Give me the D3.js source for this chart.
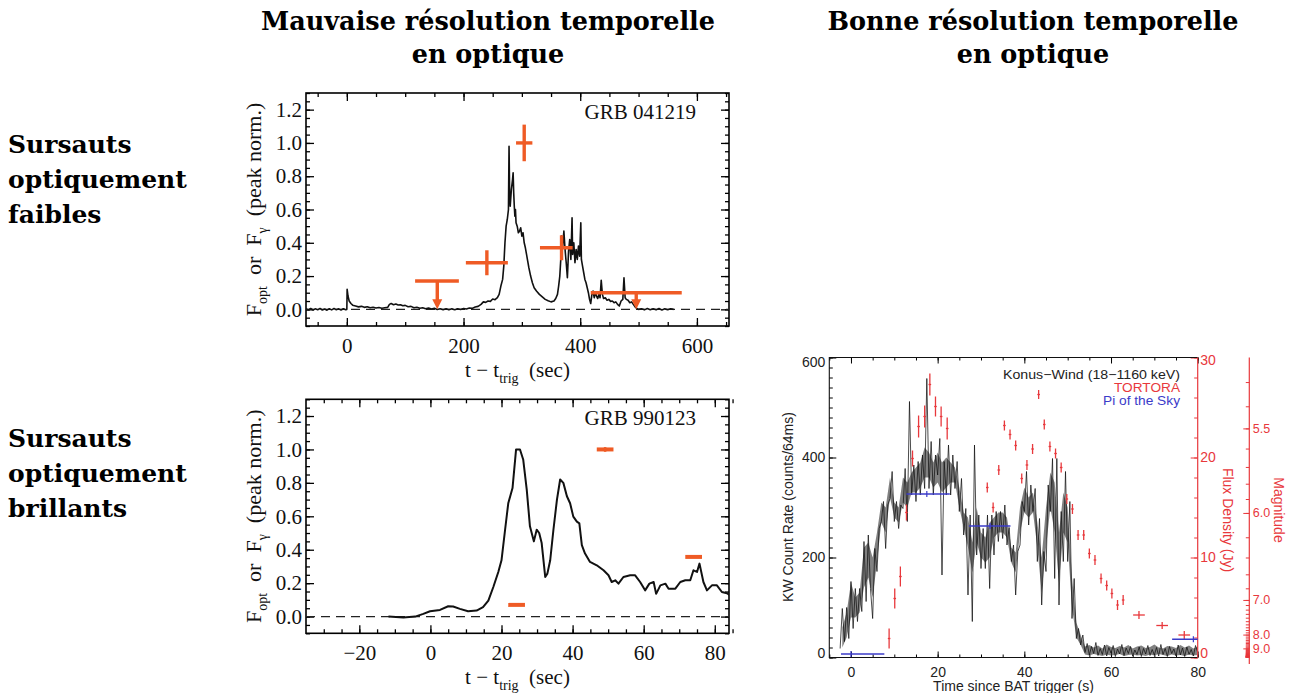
<!DOCTYPE html>
<html>
<head>
<meta charset="utf-8">
<script src="https://cdn.jsdelivr.net/npm/d3@7"></script>
<style>
  body { margin: 0; background: #fff; }
  svg text { white-space: pre; }
</style>
</head>
<body>
<svg id="fig" width="1296" height="693"></svg>
<script>
// ---- text ----
const columnTitles = [["Mauvaise résolution temporelle", "en optique"], ["Bonne résolution temporelle", "en optique"]];
const rowLabels = [["Sursauts", "optiquement", "faibles"], ["Sursauts", "optiquement", "brillants"]];

// ---- GRB 041219 (gamma light curve, peak normalised) ----
const faintTime = [
  -70,-66,-62,-58,-54,-50,-46,-42,-38,-34,-30,-26,-22,-18,-14,-10,-6,-2,
  0,0.5,2,4,7,10,15,20,25,30,35,40,45,50,55,60,
  65,70,73,76,80,84,88,92,96,100,105,110,115,120,125,130,
  135,140,145,150,155,160,165,170,175,180,185,190,195,200,205,210,
  215,220,225,230,234,238,242,246,250,254,258,261,264,267,269,271,
  273,275,277,278,279,280,282,284,285,286,287,288,289,290,292,294,
  296,298,300,302,304,306,308,310,312,315,318,321,325,330,335,340,
  345,350,355,358,361,363,365,367,368,370,372,374,376,378,380,382,
  384,386,387,389,391,393,395,397,399,401,402,404,406,408,410,412,
  414,416,418,420,422,424,426,428,430,432,434,436,438,440,443,446,
  449,452,455,458,461,464,467,470,473,475,477,479,482,485,488,491,
  494,497,500,505,510,515,520,525,530,535,540,545,550,555,560];
const faintFlux = [
  0.004,-0.003,0.005,-0.004,0.003,-0.002,0.005,-0.004,0.002,-0.005,0.004,-0.003,0.005,-0.002,0.003,-0.004,0.004,-0.002,
  0.0,0.12,0.08,0.05,0.035,0.025,0.02,0.015,0.018,0.012,0.016,0.010,0.013,0.008,0.011,0.007,
  0.010,0.012,0.030,0.035,0.028,0.032,0.026,0.028,0.022,0.024,0.016,0.018,0.010,0.013,0.007,0.010,
  0.004,0.008,0.002,0.006,-0.001,0.004,-0.002,0.004,-0.003,0.003,-0.002,0.004,-0.001,0.005,0.002,0.008,
  0.006,0.014,0.018,0.030,0.045,0.042,0.050,0.048,0.062,0.058,0.070,0.090,0.140,0.180,0.260,0.400,
  0.50,0.54,0.60,0.98,0.70,0.62,0.72,0.78,0.82,0.70,0.62,0.56,0.60,0.52,0.50,0.46,
  0.47,0.49,0.44,0.46,0.40,0.37,0.33,0.29,0.25,0.20,0.16,0.13,0.11,0.09,0.075,0.06,
  0.052,0.045,0.050,0.065,0.09,0.14,0.20,0.32,0.44,0.38,0.47,0.36,0.28,0.19,0.35,0.42,
  0.30,0.55,0.33,0.40,0.28,0.36,0.30,0.38,0.32,0.52,0.30,0.26,0.22,0.18,0.16,0.13,
  0.10,0.06,0.035,0.09,0.11,0.07,0.10,0.08,0.065,0.09,0.07,0.175,0.09,0.065,0.07,0.055,
  0.06,0.048,0.05,0.04,0.045,0.03,0.02,0.05,0.06,0.19,0.07,0.06,0.055,0.04,0.045,0.03,
  0.015,0.005,0.0,0.004,-0.003,0.005,-0.002,0.004,-0.003,0.005,-0.004,0.003,-0.002,0.004,0.0];
// optical detections (orange crosses)
const faintOptT = [240, 304, 368];
const faintOptTLo = [204, 290, 331];
const faintOptTHi = [276, 318, 387];
const faintOptFlux = [0.28, 1.0, 0.37];
const faintOptErr = [0.075, 0.11, 0.075];
// optical upper limits
const faintLimTLo = [117, 418];
const faintLimTHi = [192, 574];
const faintLimFlux = [0.17, 0.10];
const faintLimArrowT = [155, 496];

// ---- GRB 990123 ----
const brightTime = [-11.8,-7.6,-4.3,-2.0,-0.1,2.7,5.0,6.4,8.3,10.6,13.0,14.8,16.3,17.7,19.1,20.0,21.0,21.9,23.1,24.1,
  25.2,26.1,27.1,28.0,29.1,29.9,30.6,31.3,32.3,32.9,33.7,34.6,35.6,36.5,37.4,38.4,39.3,40.2,41.2,41.9,
  42.6,43.5,44.9,46.8,48.7,50.1,51.0,52.0,52.9,54.3,56.2,57.6,59.0,60.4,61.6,62.8,63.5,64.7,66.1,67.0,
  68.9,70.3,71.7,73.1,74.0,75.0,75.7,76.8,77.8,79.2,80.6,82.0,83.4,84.3];
const brightFlux = [0.0,-0.005,0.0,0.016,0.032,0.04,0.062,0.06,0.046,0.032,0.036,0.056,0.096,0.177,0.267,0.337,0.518,0.678,0.769,1.0,
  1.0,0.94,0.76,0.54,0.45,0.52,0.50,0.44,0.237,0.257,0.337,0.518,0.70,0.82,0.80,0.72,0.678,0.598,0.568,0.558,
  0.427,0.377,0.327,0.307,0.277,0.247,0.207,0.217,0.197,0.237,0.247,0.247,0.207,0.157,0.197,0.207,0.136,0.187,0.197,0.167,
  0.167,0.207,0.217,0.217,0.277,0.267,0.317,0.207,0.157,0.187,0.187,0.147,0.14,0.127];
const brightOptTLo = [21.9, 46.8, 71.7];
const brightOptTHi = [26.6, 51.5, 76.4];
const brightOptFlux = [0.07, 1.0, 0.357];
const brightOptErr = [0, 0.014, 0];

// ---- GRB 080319B : Konus-Wind counts / 64 ms ----
// spiky trace read every 0.5 s from -2.5 s
const kwStart = -2.5, kwStep = 0.5;
const kwRate = [
  18,98,32,100,38,152,58,138,72,138,92,232,112,245,138,78,218,172,258,272,
  312,218,305,318,372,272,312,258,305,298,378,272,512,325,385,312,392,325,405,338,
  558,338,432,325,405,365,438,165,392,325,425,325,405,338,392,292,358,245,298,125,
  285,72,425,205,285,178,258,178,285,138,285,205,292,232,292,238,305,225,260,192,
  225,125,212,225,312,292,372,265,345,292,338,192,278,105,212,172,345,292,398,158,
  398,105,292,192,372,192,312,78,158,38,58,25,45,
  10,28,5,22,8,30,4,18,6,25,3,20,9,24,2,17,7,26,4,19,8,22,3,15,6,21,2,18,7,24,
  4,16,5,20,3,26,6,18,2,22,8,17,3,25,5,19,2,21,6,16,3,24,10];
// dense core of the trace, read every 1 s from -2 s
const kwCoreStart = -2;
const kwCoreLo = [20,40,80,80,90,140,160,120,190,270,250,320,280,270,310,300,330,330,340,360,
  360,340,350,330,340,350,350,300,260,220,170,230,200,190,200,240,250,250,240,190,
  170,250,290,280,290,220,130,220,300,250,150,250,230,100,40,25,
  6,4,7,5,3,6,4,5,7,3,5,6,4,5,3,6,4,7,5,3,6,4,5,3,6,4,5];
const kwCoreHi = [60,90,150,120,130,220,230,200,250,310,300,360,310,300,360,350,370,380,390,420,
  410,390,410,390,400,390,380,340,290,280,230,300,250,240,270,280,290,290,280,220,
  210,300,340,320,330,270,200,300,370,350,250,330,300,160,70,45,
  22,25,20,24,18,26,21,19,23,20,25,18,22,24,19,21,26,20,18,23,22,19,25,20,24,18,22];
// TORTORA optical flux density (Jy)
const tortoraTime = [8.8,10.1,11.4,12.8,14.2,15.6,17.0,18.2,19.5,20.8,22.2,
  31.45,32.8,34.1,35.4,36.7,38.0,39.4,40.6,41.9,43.3,44.6,45.9,47.2,48.5,49.8,51.1,52.4,53.7,55.0,
  56.3,57.7,59.0,60.2,61.5,62.8,66.45,71.8,76.9];
const tortoraFlux = [1.9,5.9,8.1,14.5,19.9,23.1,24.1,27.3,25.1,24.1,22.9,
  17.0,15.0,18.75,23.2,22.3,21.2,17.9,19.25,20.85,26.3,23.3,21.1,20.4,19.0,15.85,14.85,12.25,12.25,10.4,
  9.75,7.9,7.2,6.4,5.25,5.75,4.25,3.2,2.25];
const tortoraErr = [1.0,1.0,1.0,0.8,0.8,1.1,1.1,1.1,1.0,1.0,1.1,
  0.5,0.5,0.5,0.5,0.5,0.5,0.5,0.5,0.5,0.45,0.5,0.5,0.5,0.5,0.5,0.5,0.5,0.5,0.5,
  0.5,0.5,0.5,0.5,0.5,0.5,0.4,0.35,0.4];
const tortoraTErr = [0.3,0.3,0.3,0.3,0.3,0.3,0.3,0.3,0.3,0.3,0.3,
  0.3,0.3,0.3,0.3,0.3,0.3,0.3,0.3,0.3,0.3,0.3,0.3,0.3,0.3,0.3,0.3,0.3,0.3,0.3,
  0.3,0.3,0.3,0.3,0.3,0.3,1.35,1.35,1.35];
// Pi of the Sky exposures
const piTLo = [-2.3, 12.8, 27.2, 74.1];
const piTHi = [7.7, 22.8, 36.8, 84.1];
const piMid = [0.0, 17.5, 32.1, 79.0];
const piFlux = [0.35, 16.35, 13.15, 1.83];

const countTicks = [0, 200, 400, 600];
const fluxTicks = [0, 10, 20, 30];
const magTicks = [5.5, 6.0, 7.0, 8.0, 9.0];
const magZeroJy = 3631;
const legendLabels = ["Konus\u2212Wind (18\u22121160 keV)", "TORTORA", "Pi of the Sky"];

// ---------------------------------------------------------------
const svg = d3.select("#fig");
svg.append("rect").attr("width", 1296).attr("height", 693).attr("fill", "#fff");

const serif = "'Liberation Serif', 'Times New Roman', serif";
const sans = "'Liberation Sans', Arial, sans-serif";
const cmbx = "'DejaVu Serif', serif";
const orange = "#ef5b25";
const red = "#e8383c";
const blue = "#3b3bc9";

// titles
[488, 1033].forEach((cx, i) => {
  columnTitles[i].forEach((line, j) => {
    svg.append("text").attr("x", cx).attr("y", 30 + j * 33)
      .attr("text-anchor", "middle").attr("font-family", cmbx)
      .attr("font-weight", "bold").attr("font-size", 25.5).text(line);
  });
});
[153, 447].forEach((y0, i) => {
  rowLabels[i].forEach((line, j) => {
    svg.append("text").attr("x", 8).attr("y", y0 + j * 35)
      .attr("font-family", cmbx).attr("font-weight", "bold")
      .attr("font-size", 25).text(line);
  });
});

function range(a, b, s) { return d3.range(a, b + s / 2, s).map(v => +v.toFixed(4)); }

function tickAxis(axis, transform, values, size, fmt, pad, color) {
  axis.tickValues(values).tickSizeInner(-size).tickSizeOuter(0).tickPadding(pad || 0)
      .tickFormat(fmt || (() => ""));
  const g = svg.append("g").attr("transform", transform).call(axis);
  g.select(".domain").remove();
  g.selectAll("line").attr("stroke", color || "#000");
  g.attr("font-family", null).attr("font-size", null);
  return g;
}

// ---- IDL style panels (left column) ----
function idlPanel(x, y, xMajor, xMinor, grbName) {
  const [x0, x1] = x.range(), [yb, yt] = y.range();
  const fmtX = d3.format("d"), fmtY = d3.format(".1f");
  const yMajor = range(0, 1.2, 0.2), yMinor = range(-0.1, 1.3, 0.05);
  const lw = 1.3;

  tickAxis(d3.axisBottom(x), `translate(0,${yb})`, xMinor, 4).selectAll("line").attr("stroke-width", lw);
  tickAxis(d3.axisTop(x), `translate(0,${yt})`, xMinor, 4).selectAll("line").attr("stroke-width", lw);
  tickAxis(d3.axisLeft(y), `translate(${x0},0)`, yMinor, 4).selectAll("line").attr("stroke-width", lw);
  tickAxis(d3.axisRight(y), `translate(${x1},0)`, yMinor, 4).selectAll("line").attr("stroke-width", lw);
  tickAxis(d3.axisTop(x), `translate(0,${yt})`, xMajor, 8).selectAll("line").attr("stroke-width", lw);
  tickAxis(d3.axisRight(y), `translate(${x1},0)`, yMajor, 8).selectAll("line").attr("stroke-width", lw);

  const gx = tickAxis(d3.axisBottom(x), `translate(0,${yb})`, xMajor, 8, fmtX, 0);
  gx.selectAll("line").attr("stroke-width", lw);
  gx.selectAll("text").attr("y", 27).attr("dy", null)
    .attr("font-family", serif).attr("font-size", 21).attr("fill", "#111");
  const gy = tickAxis(d3.axisLeft(y), `translate(${x0},0)`, yMajor, 8, fmtY, 4);
  gy.selectAll("line").attr("stroke-width", lw);
  gy.selectAll("text").attr("font-family", serif).attr("font-size", 21).attr("fill", "#111");

  svg.append("rect").attr("x", x0).attr("y", yt).attr("width", x1 - x0).attr("height", yb - yt)
    .attr("fill", "none").attr("stroke", "#000").attr("stroke-width", 1.6);

  // zero line
  svg.append("line").attr("x1", x0).attr("x2", x1).attr("y1", y(0)).attr("y2", y(0))
    .attr("stroke", "#222").attr("stroke-width", 1.2).attr("stroke-dasharray", "9,6");

  svg.append("text").attr("x", x1 - 33).attr("y", yt + 26).attr("text-anchor", "end")
    .attr("font-family", serif).attr("font-size", 21).attr("fill", "#111").text(grbName);

  // axis titles
  const xl = svg.append("text").attr("x", (x0 + x1) / 2).attr("y", yb + 51)
    .attr("text-anchor", "middle").attr("font-family", serif).attr("font-size", 21).attr("fill", "#111");
  xl.append("tspan").text("t \u2212 t");
  xl.append("tspan").attr("font-size", 14).attr("dy", 6).text("trig");
  xl.append("tspan").attr("dy", -6).text("  (sec)");

  const cy = (yb + yt) / 2;
  const yl = svg.append("text").attr("transform", `translate(${x0 - 45},${cy}) rotate(-90)`)
    .attr("text-anchor", "middle").attr("font-family", serif).attr("font-size", 22).attr("fill", "#111");
  yl.append("tspan").text("F");
  yl.append("tspan").attr("font-size", 14).attr("dy", 6).text("opt");
  yl.append("tspan").attr("dy", -6).text("  or  F");
  yl.append("tspan").attr("font-size", 14).attr("dy", 6).text("\u03b3");
  yl.append("tspan").attr("dy", -6).text("  (peak norm.)");

  const clipId = "clip" + Math.round(yt);
  svg.append("clipPath").attr("id", clipId).append("rect")
    .attr("x", x0).attr("y", yt).attr("width", x1 - x0).attr("height", yb - yt);
  return clipId;
}

// top-left panel
const xFaint = d3.scaleLinear().domain([-70, 655]).range([306, 729]);
const yFaint = d3.scaleLinear().domain([-0.1, 1.3]).range([326, 93]);
const clipFaint = idlPanel(xFaint, yFaint, [0, 200, 400, 600], range(-50, 650, 50), "GRB 041219");

svg.append("path").attr("clip-path", `url(#${clipFaint})`)
  .attr("d", d3.line().x(i => xFaint(faintTime[i])).y(i => yFaint(faintFlux[i]))(d3.range(faintTime.length)))
  .attr("fill", "none").attr("stroke", "#111").attr("stroke-width", 1.6).attr("stroke-linejoin", "round");

const oG = svg.append("g").attr("stroke", orange).attr("stroke-width", 3.4).attr("fill", "none");
faintOptT.forEach((t, i) => {
  oG.append("line").attr("x1", xFaint(faintOptTLo[i])).attr("x2", xFaint(faintOptTHi[i]))
    .attr("y1", yFaint(faintOptFlux[i])).attr("y2", yFaint(faintOptFlux[i]));
  oG.append("line").attr("x1", xFaint(t)).attr("x2", xFaint(t))
    .attr("y1", yFaint(faintOptFlux[i] - faintOptErr[i])).attr("y2", yFaint(faintOptFlux[i] + faintOptErr[i]));
});
faintLimFlux.forEach((f, i) => {
  const ax = xFaint(faintLimArrowT[i]), y1 = yFaint(f), y2 = yFaint(0);
  oG.append("line").attr("x1", xFaint(faintLimTLo[i])).attr("x2", xFaint(faintLimTHi[i])).attr("y1", y1).attr("y2", y1);
  oG.append("line").attr("x1", ax).attr("x2", ax).attr("y1", y1).attr("y2", y2 - 8);
  svg.append("path").attr("d", `M${ax - 5},${y2 - 10}L${ax + 5},${y2 - 10}L${ax},${y2}Z`).attr("fill", orange);
});

// bottom-left panel
const xBright = d3.scaleLinear().domain([-35, 84]).range([306, 729]);
const yBright = d3.scaleLinear().domain([-0.1, 1.3]).range([633.3, 399.3]);
const clipBright = idlPanel(xBright, yBright, [-20, 0, 20, 40, 60, 80], range(-35, 84, 5).filter(v => v >= -30), "GRB 990123");

svg.append("path").attr("clip-path", `url(#${clipBright})`)
  .attr("d", d3.line().x(i => xBright(brightTime[i])).y(i => yBright(brightFlux[i]))(d3.range(brightTime.length)))
  .attr("fill", "none").attr("stroke", "#111").attr("stroke-width", 2).attr("stroke-linejoin", "round");

const bG = svg.append("g").attr("stroke", orange).attr("stroke-width", 4).attr("fill", "none");
brightOptFlux.forEach((f, i) => {
  bG.append("line").attr("x1", xBright(brightOptTLo[i])).attr("x2", xBright(brightOptTHi[i]))
    .attr("y1", yBright(f)).attr("y2", yBright(f));
  if (brightOptErr[i] > 0) {
    const xm = xBright((brightOptTLo[i] + brightOptTHi[i]) / 2);
    bG.append("line").attr("x1", xm).attr("x2", xm).attr("stroke-width", 2.5)
      .attr("y1", yBright(f - brightOptErr[i])).attr("y2", yBright(f + brightOptErr[i]));
  }
});

// ---- right panel (GRB 080319B) ----
const xR = d3.scaleLinear().domain([-5, 80]).range([829.3, 1197.7]);
const yCount = d3.scaleLinear().domain([0, 600]).range([657.5, 357.5]);
const yFlux = d3.scaleLinear().domain([0, 30]).range([657.5, 357.5]);
const magAll = range(5.3, 6.0, 0.1).concat(range(6.2, 6.8, 0.2), range(7.0, 12.0, 0.1));
const yMag = d3.scaleLinear().domain(magAll).range(magAll.map(m => yFlux(magZeroJy * Math.pow(10, -0.4 * m))));

const [rx0, rx1] = xR.range(), [ryb, ryt] = yCount.range();

function endShift(scale, v, top) {
  return v === scale.domain()[0] ? -4 : (v === scale.domain()[1] ? top : 0);
}

tickAxis(d3.axisBottom(xR), `translate(0,${ryb})`, range(-5, 80, 5), 3);
tickAxis(d3.axisTop(xR), `translate(0,${ryt})`, range(-5, 80, 5), 3);
tickAxis(d3.axisTop(xR), `translate(0,${ryt})`, [0, 20, 40, 60, 80], 6);
const rgx = tickAxis(d3.axisBottom(xR), `translate(0,${ryb})`, [0, 20, 40, 60, 80], 6, d3.format("d"));
rgx.selectAll("text").attr("y", 19).attr("dy", null).attr("font-family", sans).attr("font-size", 14).attr("fill", "#222");

tickAxis(d3.axisLeft(yCount), `translate(${rx0},0)`, range(0, 600, 20), 3.5);
const rgy = tickAxis(d3.axisLeft(yCount), `translate(${rx0},0)`, countTicks, 7, d3.format("d"), 4);
rgy.selectAll("text").attr("font-family", sans).attr("font-size", 14).attr("fill", "#222")
  .attr("y", d => endShift(yCount, d, 4.2));

tickAxis(d3.axisRight(yFlux), `translate(${rx1},0)`, range(0, 30, 2), 3.5, null, 0, red);
const rgf = tickAxis(d3.axisRight(yFlux), `translate(${rx1},0)`, fluxTicks, 7, d3.format("d"), 2.5, red);
rgf.selectAll("text").attr("font-family", sans).attr("font-size", 14).attr("fill", red)
  .attr("y", d => endShift(yFlux, d, 2.5));

// Konus-Wind light curve: dense core band + spiky trace
svg.append("clipPath").attr("id", "clipR").append("rect")
  .attr("x", rx0).attr("y", ryt).attr("width", rx1 - rx0).attr("height", ryb - ryt);
svg.append("path").attr("clip-path", "url(#clipR)")
  .attr("d", d3.area().x((d, i) => xR(kwCoreStart + i)).y0(d => yCount(d)).y1((d, i) => yCount(kwCoreHi[i]))(kwCoreLo))
  .attr("fill", "#333").attr("fill-opacity", 0.62);
svg.append("path").attr("clip-path", "url(#clipR)")
  .attr("d", d3.line().x((d, i) => xR(kwStart + i * kwStep)).y(d => yCount(d))(kwRate))
  .attr("fill", "none").attr("stroke", "#111").attr("stroke-width", 0.75);

// frame
svg.append("path").attr("d", `M${rx1},${ryt}H${rx0}V${ryb}H${rx1}`).attr("fill", "none").attr("stroke", "#111").attr("stroke-width", 1.1);
svg.append("line").attr("x1", rx1).attr("x2", rx1).attr("y1", ryt).attr("y2", ryb).attr("stroke", red).attr("stroke-width", 1.2);

// magnitude axis
const magX = 1249.3;
svg.append("line").attr("x1", magX).attr("x2", magX).attr("y1", ryt).attr("y2", 664).attr("stroke", red).attr("stroke-width", 1.2);
tickAxis(d3.axisRight(yMag), `translate(${magX},0)`, magAll, 3.5, null, 0, red);
const rgm = tickAxis(d3.axisRight(yMag), `translate(${magX},0)`, magTicks, 6, d3.format(".1f"), 3.5, red);
rgm.selectAll("text").attr("font-family", sans).attr("font-size", 12.5).attr("fill", red);

// TORTORA
const tG = svg.append("g").attr("stroke", red).attr("stroke-width", 1.3);
tortoraTime.forEach((t, i) => {
  const f = tortoraFlux[i];
  tG.append("line").attr("x1", xR(t)).attr("x2", xR(t)).attr("y1", yFlux(f - tortoraErr[i])).attr("y2", yFlux(f + tortoraErr[i]));
  tG.append("line").attr("x1", xR(t - tortoraTErr[i])).attr("x2", xR(t + tortoraTErr[i])).attr("y1", yFlux(f)).attr("y2", yFlux(f));
});

// Pi of the Sky
const pG = svg.append("g").attr("stroke", blue).attr("stroke-width", 1.6).attr("clip-path", "url(#clipR)");
piFlux.forEach((f, i) => {
  pG.append("line").attr("x1", xR(piTLo[i])).attr("x2", xR(piTHi[i])).attr("y1", yFlux(f)).attr("y2", yFlux(f));
  pG.append("line").attr("x1", xR(piMid[i])).attr("x2", xR(piMid[i])).attr("y1", yFlux(f) - 3).attr("y2", yFlux(f) + 3).attr("stroke-width", 1.2);
});

// legend (text is wide and short in the reference)
const legendColors = ["#222", red, blue], legendWidths = [177, 66, 77];
legendLabels.forEach((label, i) => {
  svg.append("text").attr("x", 1180 - legendWidths[i]).attr("y", [379, 392, 405][i])
    .attr("textLength", legendWidths[i]).attr("lengthAdjust", "spacingAndGlyphs")
    .attr("font-family", sans).attr("font-size", 12.5).attr("fill", legendColors[i]).text(label);
});

// axis titles
svg.append("text").attr("x", (rx0 + rx1) / 2).attr("y", 691).attr("text-anchor", "middle")
  .attr("font-family", sans).attr("font-size", 14).attr("fill", "#222").text("Time since BAT trigger (s)");
svg.append("text").attr("transform", `translate(793,507) rotate(-90)`).attr("text-anchor", "middle")
  .attr("font-family", sans).attr("font-size", 14).attr("fill", "#222").text("KW Count Rate (counts/64ms)");
svg.append("text").attr("transform", `translate(1223,520) rotate(90)`).attr("text-anchor", "middle")
  .attr("font-family", sans).attr("font-size", 14).attr("fill", red).text("Flux Density (Jy)");
svg.append("text").attr("transform", `translate(1274,510) rotate(90)`).attr("text-anchor", "middle")
  .attr("font-family", sans).attr("font-size", 14).attr("fill", red).text("Magnitude");
</script>
</body>
</html>
